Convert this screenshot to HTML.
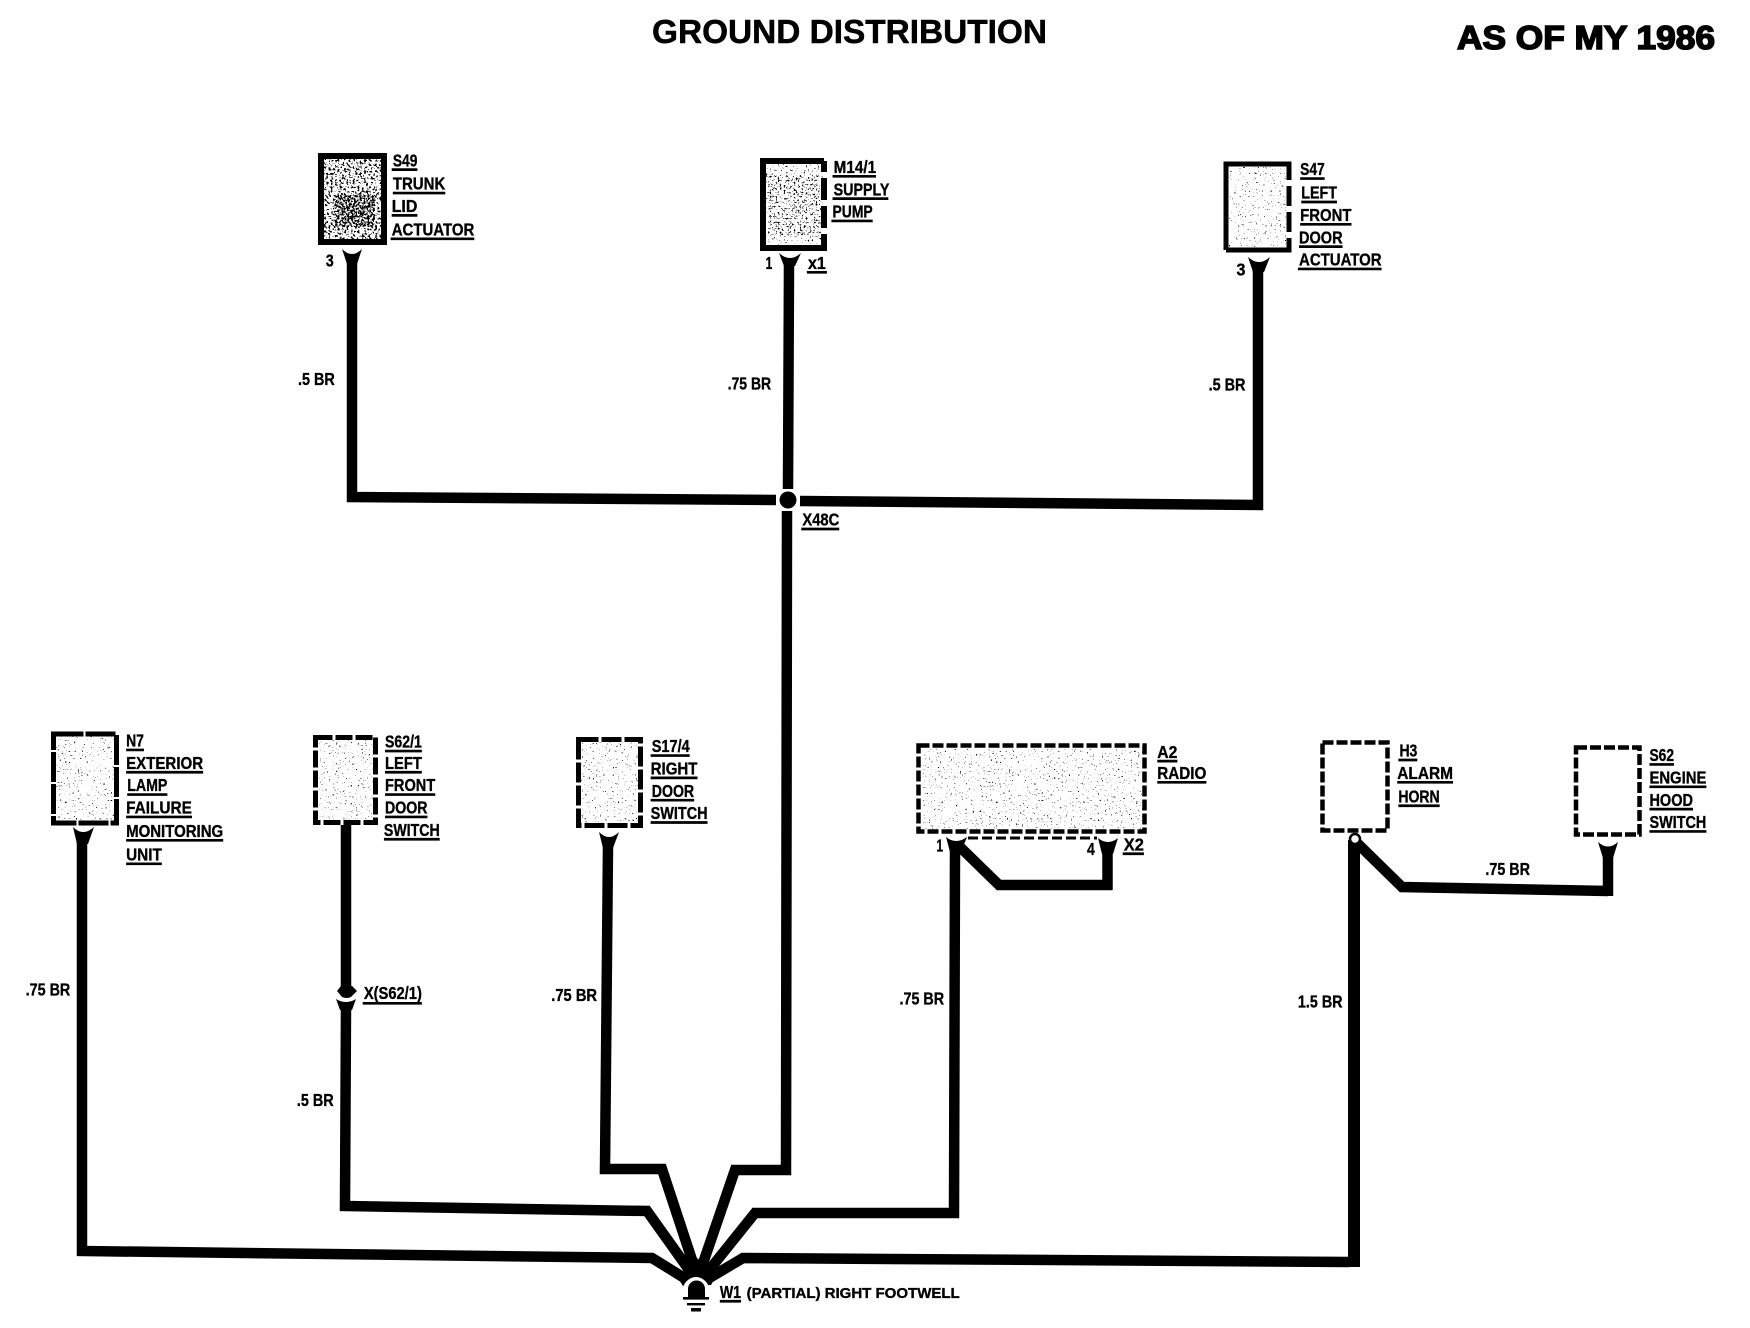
<!DOCTYPE html>
<html>
<head>
<meta charset="utf-8">
<style>
html,body{margin:0;padding:0;background:#fff;width:1750px;height:1328px;overflow:hidden}
svg{display:block}
.t{font-family:"Liberation Sans Narrow","Liberation Sans",sans-serif;font-weight:bold;fill:#000;font-size:15.5px;stroke:#000;stroke-width:.3}
.h{font-family:"Liberation Sans",sans-serif;font-weight:bold;fill:#000}
.u{stroke:#000;stroke-width:2.4;fill:none}
.w{stroke:#000;fill:none;stroke-width:10.5;stroke-linejoin:miter}
.b{fill:none;stroke:#000;stroke-width:5}
</style>
</head>
<body>
<svg width="1750" height="1328" viewBox="0 0 1750 1328" xmlns="http://www.w3.org/2000/svg">
<defs>
<filter id="n1" x="0" y="0" width="1" height="1" color-interpolation-filters="sRGB"><feTurbulence type="fractalNoise" baseFrequency="0.45" numOctaves="2" seed="3"/><feColorMatrix values="0 0 0 0 0 0 0 0 0 0 0 0 0 0 0 30 0 0 0 -17"/></filter>
<filter id="n1b" x="0" y="0" width="1" height="1" color-interpolation-filters="sRGB"><feTurbulence type="fractalNoise" baseFrequency="0.5" numOctaves="2" seed="8"/><feColorMatrix values="0 0 0 0 0 0 0 0 0 0 0 0 0 0 0 30 0 0 0 -15.5"/></filter>
<filter id="n2" x="0" y="0" width="1" height="1" color-interpolation-filters="sRGB"><feTurbulence type="fractalNoise" baseFrequency="0.5" numOctaves="2" seed="5"/><feColorMatrix values="0 0 0 0 0 0 0 0 0 0 0 0 0 0 0 30 0 0 0 -19"/></filter>
<filter id="n2b" x="0" y="0" width="1" height="1" color-interpolation-filters="sRGB"><feTurbulence type="fractalNoise" baseFrequency="0.5" numOctaves="2" seed="6"/><feColorMatrix values="0 0 0 0 0 0 0 0 0 0 0 0 0 0 0 30 0 0 0 -20.5"/></filter>
<filter id="n3" x="0" y="0" width="1" height="1" color-interpolation-filters="sRGB"><feTurbulence type="fractalNoise" baseFrequency="0.55" numOctaves="2" seed="11"/><feColorMatrix values="0 0 0 0 0 0 0 0 0 0 0 0 0 0 0 30 0 0 0 -21.5"/></filter>
</defs>

<!-- speckle -->
<rect x="323" y="158" width="60" height="82" filter="url(#n1)"/>
<rect x="335" y="195" width="40" height="32" filter="url(#n1b)"/>
<rect x="765" y="163" width="58" height="84" filter="url(#n2b)"/>
<rect x="768" y="175" width="52" height="60" filter="url(#n2)"/>
<rect x="1229" y="167" width="57" height="80" filter="url(#n3)"/>
<rect x="56" y="736" width="58" height="84" filter="url(#n3)"/>
<rect x="318" y="740" width="55" height="80" filter="url(#n3)"/>
<rect x="581" y="742" width="57" height="82" filter="url(#n3)"/>
<rect x="923" y="749" width="220" height="80" filter="url(#n3)"/>

<!-- boxes -->
<rect class="b" x="321" y="156" width="63" height="86" style="stroke-width:6"/>
<path class="b" style="stroke-width:6" d="M763 251V161H824M824 161V172M824 178V200M824 206V228M824 234V248H763"/>
<path class="b" d="M1226 250V164H1289V180M1289 186V206M1289 212V232M1289 238V250H1226"/>
<rect class="b" x="53.5" y="734" width="63" height="89" stroke-dasharray="30 2"/>
<rect class="b" x="315.5" y="737.5" width="60" height="85" stroke-dasharray="17 3"/>
<rect class="b" x="578.5" y="739.5" width="62" height="86" stroke-dasharray="20 3"/>
<rect class="b" x="918.5" y="745.5" width="226" height="86" stroke-dasharray="11 3" style="stroke-width:4.5"/>
<rect class="b" x="1322.5" y="742.5" width="65" height="88" stroke-dasharray="11 3" style="stroke-width:4.5"/>
<rect class="b" x="1576" y="747.5" width="63.5" height="87" stroke-dasharray="11 3" style="stroke-width:4.5"/>

<!-- dashed bus -->
<line x1="968" y1="838" x2="1097" y2="838" stroke="#000" stroke-width="3" stroke-dasharray="10 4"/>

<!-- wires top -->
<polyline class="w" points="352,262 352,497 776,500"/>
<line class="w" x1="789" y1="264" x2="788" y2="489"/>
<polyline class="w" points="800,501 1258,505 1258,270"/>
<polyline class="w" points="787,511 786,1170 735,1170 700,1272"/>
<circle cx="788" cy="500" r="8.5"/>

<!-- wires bottom -->
<polyline class="w" points="82,842 82,1251 652,1258 686,1279"/>
<polyline class="w" points="346,825 346,992"/>
<polyline class="w" points="346,1006 345,1206 647,1211 692,1274"/>
<polyline class="w" points="608,846 605,1169 662,1169 696,1272"/>
<polyline class="w" points="955,850 954,1213 755,1213 706,1274"/>
<polyline class="w" points="960,847 999,885 1112,885"/>
<line class="w" x1="1107.5" y1="852" x2="1107.5" y2="890"/>
<line x1="1354" y1="840" x2="1354" y2="1267" stroke="#000" stroke-width="12"/>
<polyline class="w" points="1349,1262 743,1258 706,1280"/>
<polyline class="w" points="1356,842 1402,887 1608,891"/>
<line class="w" x1="1608" y1="856" x2="1608" y2="896"/>

<!-- forks -->
<g fill="#000">
<path d="M342 249 Q352 259 362 249 L357 264 H347Z"/>
<path d="M779 253 Q790 263 801 253 L795 266 H784Z"/>
<path d="M1248 257 Q1259 267 1270 257 L1264 272 H1253Z"/>
<path d="M73 827 Q83 837 94 827 L88 844 H77Z"/>
<path d="M599 832 Q609 842 619 832 L613 848 H603Z"/>
<path d="M946 837 Q956 845 967 837 L961 852 H950Z"/>
<path d="M1098 838 Q1108 846 1118 838 L1113 854 H1102Z"/>
<path d="M1598 842 Q1608 851 1618 842 L1613 858 H1603Z"/>
<!-- X(S62/1) connector -->
<path d="M341 986 L337 991 L342 997 Q346.5 999 351 997 L357 991 L352 986Z"/>
<path d="M336 999 Q346 1005 356 999 L352 1010 H340Z"/>
<!-- wire mass at ground -->
<path d="M678 1278 L697 1258 L716 1276 L711 1285 L683 1286Z"/>
</g>
<circle cx="1355" cy="839" r="5" fill="#fff" stroke="#000" stroke-width="2.5"/>

<!-- ground -->
<ellipse cx="696" cy="1293" rx="14" ry="16" fill="#fff"/>
<rect x="670" y="1290" width="52" height="30" fill="#fff"/>
<circle cx="696.5" cy="1289" r="8.5"/>
<rect x="688" y="1290" width="17" height="7"/>
<rect x="683" y="1297" width="26" height="2.6"/>
<rect x="687" y="1303" width="18" height="2.4"/>
<rect x="691" y="1308" width="10" height="3.5"/>

<!-- titles -->
<text class="h" x="652" y="43" font-size="33" textLength="395" lengthAdjust="spacingAndGlyphs" stroke="#000" stroke-width=".5">GROUND DISTRIBUTION</text>
<text class="h" x="1457" y="49" font-size="33" textLength="258" lengthAdjust="spacingAndGlyphs" stroke="#000" stroke-width="1.6">AS OF MY 1986</text>

<!-- labels in 1568-wide coordinates -->
<g transform="scale(1.116)">
<text class="t" x="352" y="149" textLength="22" lengthAdjust="spacingAndGlyphs">S49</text><line class="u" x1="351" x2="374" y1="152" y2="152"/>
<text class="t" x="352" y="170" textLength="47" lengthAdjust="spacingAndGlyphs">TRUNK</text><line class="u" x1="352" x2="399" y1="173" y2="173"/>
<text class="t" x="351" y="190" textLength="23" lengthAdjust="spacingAndGlyphs">LID</text><line class="u" x1="351" x2="374" y1="193" y2="193"/>
<text class="t" x="351" y="211" textLength="74" lengthAdjust="spacingAndGlyphs">ACTUATOR</text><line class="u" x1="350" x2="425" y1="214" y2="214"/>
<text class="t" x="292" y="239" textLength="7" lengthAdjust="spacingAndGlyphs">3</text>

<text class="t" x="747" y="155" textLength="38" lengthAdjust="spacingAndGlyphs">M14/1</text><line class="u" x1="746" x2="785" y1="158" y2="158"/>
<text class="t" x="747" y="175" textLength="50" lengthAdjust="spacingAndGlyphs">SUPPLY</text><line class="u" x1="746" x2="796" y1="178" y2="178"/>
<text class="t" x="746" y="195" textLength="36" lengthAdjust="spacingAndGlyphs">PUMP</text><line class="u" x1="745" x2="782" y1="198" y2="198"/>
<text class="t" x="686" y="241" textLength="6" lengthAdjust="spacingAndGlyphs">1</text>
<text class="t" x="724" y="241" textLength="16" lengthAdjust="spacingAndGlyphs">x1</text><line class="u" x1="723" x2="741" y1="244" y2="244"/>

<text class="t" x="1165" y="157" textLength="22" lengthAdjust="spacingAndGlyphs">S47</text><line class="u" x1="1165" x2="1187" y1="160" y2="160"/>
<text class="t" x="1166" y="178" textLength="32" lengthAdjust="spacingAndGlyphs">LEFT</text><line class="u" x1="1166" x2="1198" y1="181" y2="181"/>
<text class="t" x="1165" y="198" textLength="46" lengthAdjust="spacingAndGlyphs">FRONT</text><line class="u" x1="1165" x2="1211" y1="201" y2="201"/>
<text class="t" x="1164" y="218" textLength="39" lengthAdjust="spacingAndGlyphs">DOOR</text><line class="u" x1="1164" x2="1203" y1="221" y2="221"/>
<text class="t" x="1164" y="238" textLength="74" lengthAdjust="spacingAndGlyphs">ACTUATOR</text><line class="u" x1="1163" x2="1238" y1="241" y2="241"/>
<text class="t" x="1108" y="247" textLength="8" lengthAdjust="spacingAndGlyphs">3</text>

<text class="t" x="267" y="345" textLength="33" lengthAdjust="spacingAndGlyphs">.5 BR</text>
<text class="t" x="652" y="349" textLength="39" lengthAdjust="spacingAndGlyphs">.75 BR</text>
<text class="t" x="1083" y="350" textLength="33" lengthAdjust="spacingAndGlyphs">.5 BR</text>
<text class="t" x="719" y="471" textLength="33" lengthAdjust="spacingAndGlyphs">X48C</text><line class="u" x1="718" x2="752" y1="474" y2="474"/>

<text class="t" x="113" y="669" textLength="16" lengthAdjust="spacingAndGlyphs">N7</text><line class="u" x1="113" x2="129" y1="672" y2="672"/>
<text class="t" x="113" y="689" textLength="69" lengthAdjust="spacingAndGlyphs">EXTERIOR</text><line class="u" x1="113" x2="182" y1="692" y2="692"/>
<text class="t" x="114" y="709" textLength="36" lengthAdjust="spacingAndGlyphs">LAMP</text><line class="u" x1="114" x2="150" y1="712" y2="712"/>
<text class="t" x="113" y="729" textLength="59" lengthAdjust="spacingAndGlyphs">FAILURE</text><line class="u" x1="113" x2="172" y1="732" y2="732"/>
<text class="t" x="113" y="750" textLength="87" lengthAdjust="spacingAndGlyphs">MONITORING</text><line class="u" x1="113" x2="200" y1="753" y2="753"/>
<text class="t" x="113" y="771" textLength="32" lengthAdjust="spacingAndGlyphs">UNIT</text><line class="u" x1="113" x2="145" y1="774" y2="774"/>

<text class="t" x="345" y="670" textLength="33" lengthAdjust="spacingAndGlyphs">S62/1</text><line class="u" x1="345" x2="378" y1="673" y2="673"/>
<text class="t" x="345" y="689" textLength="33" lengthAdjust="spacingAndGlyphs">LEFT</text><line class="u" x1="345" x2="378" y1="692" y2="692"/>
<text class="t" x="345" y="709" textLength="45" lengthAdjust="spacingAndGlyphs">FRONT</text><line class="u" x1="345" x2="390" y1="712" y2="712"/>
<text class="t" x="345" y="729" textLength="38" lengthAdjust="spacingAndGlyphs">DOOR</text><line class="u" x1="345" x2="383" y1="732" y2="732"/>
<text class="t" x="344" y="749" textLength="50" lengthAdjust="spacingAndGlyphs">SWITCH</text><line class="u" x1="344" x2="394" y1="752" y2="752"/>
<text class="t" x="326" y="895" textLength="52" lengthAdjust="spacingAndGlyphs">X(S62/1)</text><line class="u" x1="325" x2="378" y1="899" y2="899"/>

<text class="t" x="584" y="674" textLength="34" lengthAdjust="spacingAndGlyphs">S17/4</text><line class="u" x1="583" x2="618" y1="677" y2="677"/>
<text class="t" x="583" y="694" textLength="42" lengthAdjust="spacingAndGlyphs">RIGHT</text><line class="u" x1="583" x2="625" y1="697" y2="697"/>
<text class="t" x="584" y="714" textLength="38" lengthAdjust="spacingAndGlyphs">DOOR</text><line class="u" x1="583" x2="622" y1="717" y2="717"/>
<text class="t" x="583" y="734" textLength="51" lengthAdjust="spacingAndGlyphs">SWITCH</text><line class="u" x1="583" x2="634" y1="737" y2="737"/>

<text class="t" x="1037" y="679" textLength="18" lengthAdjust="spacingAndGlyphs">A2</text><line class="u" x1="1037" x2="1055" y1="682" y2="682"/>
<text class="t" x="1037" y="698" textLength="44" lengthAdjust="spacingAndGlyphs">RADIO</text><line class="u" x1="1037" x2="1081" y1="701" y2="701"/>
<text class="t" x="1007" y="762" textLength="18" lengthAdjust="spacingAndGlyphs">X2</text><line class="u" x1="1006" x2="1025" y1="765" y2="765"/>
<text class="t" x="839" y="763" textLength="6" lengthAdjust="spacingAndGlyphs">1</text>
<text class="t" x="974" y="766" textLength="7" lengthAdjust="spacingAndGlyphs">4</text>

<text class="t" x="1254" y="678" textLength="16" lengthAdjust="spacingAndGlyphs">H3</text><line class="u" x1="1253" x2="1270" y1="681" y2="681"/>
<text class="t" x="1252" y="698" textLength="50" lengthAdjust="spacingAndGlyphs">ALARM</text><line class="u" x1="1252" x2="1302" y1="701" y2="701"/>
<text class="t" x="1253" y="719" textLength="37" lengthAdjust="spacingAndGlyphs">HORN</text><line class="u" x1="1253" x2="1290" y1="722" y2="722"/>

<text class="t" x="1478" y="682" textLength="22" lengthAdjust="spacingAndGlyphs">S62</text><line class="u" x1="1478" x2="1500" y1="685" y2="685"/>
<text class="t" x="1478" y="702" textLength="51" lengthAdjust="spacingAndGlyphs">ENGINE</text><line class="u" x1="1478" x2="1529" y1="705" y2="705"/>
<text class="t" x="1478" y="722" textLength="39" lengthAdjust="spacingAndGlyphs">HOOD</text><line class="u" x1="1478" x2="1517" y1="725" y2="725"/>
<text class="t" x="1478" y="742" textLength="51" lengthAdjust="spacingAndGlyphs">SWITCH</text><line class="u" x1="1478" x2="1529" y1="745" y2="745"/>

<text class="t" x="1331" y="784" textLength="40" lengthAdjust="spacingAndGlyphs">.75 BR</text>
<text class="t" x="23" y="892" textLength="40" lengthAdjust="spacingAndGlyphs">.75 BR</text>
<text class="t" x="266" y="991" textLength="33" lengthAdjust="spacingAndGlyphs">.5 BR</text>
<text class="t" x="494" y="897" textLength="41" lengthAdjust="spacingAndGlyphs">.75 BR</text>
<text class="t" x="806" y="900" textLength="40" lengthAdjust="spacingAndGlyphs">.75 BR</text>
<text class="t" x="1163" y="903" textLength="40" lengthAdjust="spacingAndGlyphs">1.5 BR</text>

<text class="t" x="645" y="1163" textLength="19" lengthAdjust="spacingAndGlyphs">W1</text><line class="u" x1="645" x2="664" y1="1166" y2="1166"/>
<text class="t" x="669" y="1163" textLength="191" lengthAdjust="spacing" style="font-size:13.5px">(PARTIAL) RIGHT FOOTWELL</text>
</g>
</svg>
</body>
</html>
